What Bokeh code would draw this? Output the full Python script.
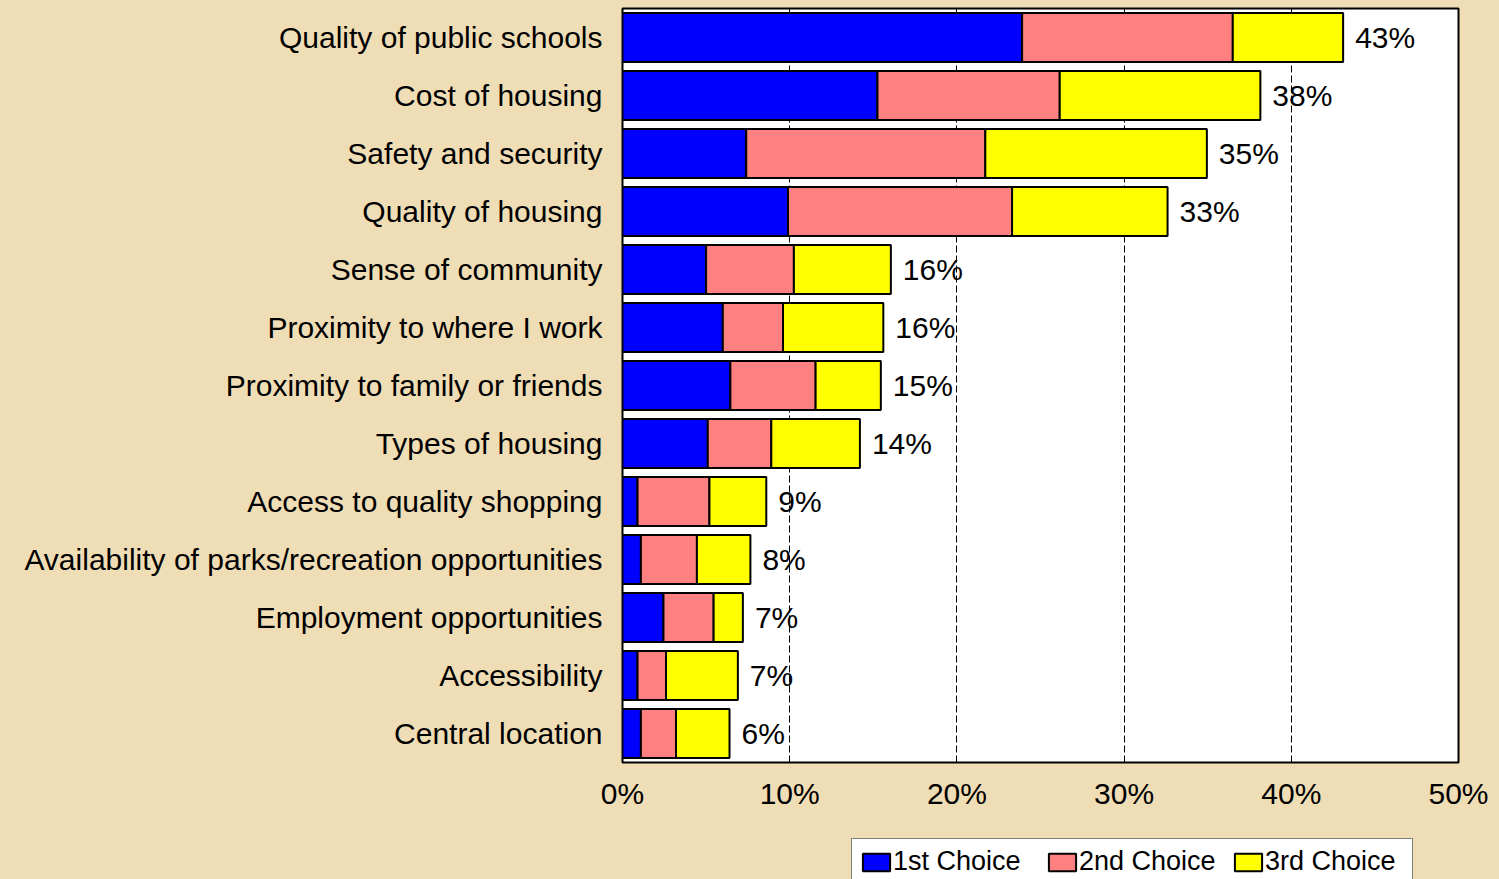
from bokeh.plotting import figure
from bokeh.layouts import column
from bokeh.models import (Range1d, FactorRange, FixedTicker, PrintfTickFormatter,
                          Legend, LegendItem, ColumnDataSource, LabelSet)
from bokeh.core.properties import value
from bokeh.embed import file_html
from bokeh.resources import INLINE

categories = [
    "Quality of public schools",
    "Cost of housing",
    "Safety and security",
    "Quality of housing",
    "Sense of community",
    "Proximity to where I work",
    "Proximity to family or friends",
    "Types of housing",
    "Access to quality shopping",
    "Availability of parks/recreation opportunities",
    "Employment opportunities",
    "Accessibility",
    "Central location",
]
first_choice = [23.9, 15.25, 7.4, 9.9, 5.0, 6.0, 6.45, 5.1, 0.9, 1.1, 2.45, 0.9, 1.1]
second_choice = [12.6, 10.9, 14.3, 13.4, 5.25, 3.6, 5.1, 3.8, 4.3, 3.35, 3.0, 1.7, 2.1]
third_choice = [6.6, 12.0, 13.25, 9.3, 5.8, 6.0, 3.9, 5.3, 3.4, 3.2, 1.75, 4.3, 3.2]
series_names = ["1st Choice", "2nd Choice", "3rd Choice"]
x_ticks = [0, 10, 20, 30, 40, 50]

colors = ["#0000FF", "#FF8080", "#FFFF00"]
BG = "#EFDDB6"
FONT = "Liberation Sans"

totals = [a + b + c for a, b, c in zip(first_choice, second_choice, third_choice)]
labels = [f"{int(round(t))}%" for t in totals]

src = ColumnDataSource(dict(cat=categories, first=first_choice, second=second_choice,
                            third=third_choice, total=totals, label=labels))

# ---------------- main chart ----------------
p = figure(width=1499, height=830,
           y_range=FactorRange(factors=categories[::-1]),
           x_range=Range1d(0, 50),
           output_backend="svg", toolbar_location=None,
           min_border_left=622, min_border_right=41, min_border_top=8, min_border_bottom=68)

p.background_fill_color = "white"
p.border_fill_color = BG
p.outline_line_color = "black"
p.outline_line_width = 2

renderers = p.hbar_stack(["first", "second", "third"], y="cat", height=0.845,
                         color=colors, line_color="black", line_width=2, source=src)

lbls = LabelSet(x="total", y="cat", text="label", x_offset=12, source=src,
                text_baseline="middle", text_align="left",
                text_font_size="30px", text_font=value(FONT), text_color="black")
p.add_layout(lbls)

p.xaxis.ticker = FixedTicker(ticks=x_ticks)
p.xaxis.formatter = PrintfTickFormatter(format="%d%%")
for ax in (p.xaxis, p.yaxis):
    ax.axis_line_color = None
    ax.major_tick_line_color = None
    ax.minor_tick_line_color = None
    ax.major_tick_out = 0
    ax.major_tick_in = 0
    ax.major_label_text_font_size = "30px"
    ax.major_label_text_font = FONT
    ax.major_label_text_color = "black"
p.xaxis.major_label_standoff = 14
p.yaxis.major_label_standoff = 20

p.xgrid.ticker = FixedTicker(ticks=[10, 20, 30, 40])
p.xgrid.grid_line_color = "black"
p.xgrid.grid_line_dash = "7 3"
p.xgrid.grid_line_width = 1
p.ygrid.grid_line_color = None

# ---------------- legend strip (same borders as the main chart) ----------------
q = figure(width=1499, height=49, x_range=Range1d(0, 1), y_range=Range1d(0, 1),
           x_axis_type=None, y_axis_type=None,
           output_backend="svg", toolbar_location=None,
           min_border_left=622, min_border_right=41, min_border_top=0, min_border_bottom=0)
q.background_fill_color = BG
q.border_fill_color = BG
q.outline_line_color = None
q.grid.visible = False

# legend swatch proxies, placed outside the visible range
proxies = [q.hbar(y=[-5], left=[0], right=[0], height=0.1, fill_color=c,
                  line_color="black", line_width=2) for c in colors]
legend = Legend(items=[LegendItem(label=n, renderers=[r]) for n, r in zip(series_names, proxies)],
                orientation="horizontal", location=(229, -6),
                background_fill_color="white", background_fill_alpha=1,
                border_line_color="black", border_line_width=1.5,
                label_text_font_size="27px", label_text_font=FONT, label_text_color="black",
                glyph_width=34, glyph_height=22, label_standoff=0, spacing=12,
                label_width=140, padding=7, margin=0)
q.add_layout(legend)

layout = column(p, q, spacing=0)
html = file_html(layout, INLINE)
html = html.replace("<head>", "<head><style>body{background:%s;margin:0;}</style>" % BG, 1)
open("out.html", "w").write(html)
